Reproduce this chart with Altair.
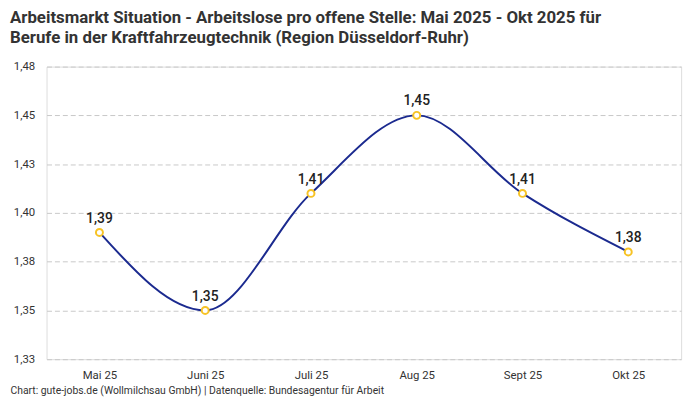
import altair as alt
import pandas as pd

months = ["Mai 25", "Juni 25", "Juli 25", "Aug 25", "Sept 25", "Okt 25"]
values = [1.39, 1.35, 1.41, 1.45, 1.41, 1.38]
y_ticks = [1.325, 1.35, 1.375, 1.40, 1.425, 1.45, 1.475]

df = pd.DataFrame({"monat": months, "wert": values})

FONT = "Roboto"

base = alt.Chart(df).encode(
    x=alt.X(
        "monat:N",
        sort=months,
        scale=alt.Scale(paddingInner=1, paddingOuter=0.5),
        axis=alt.Axis(
            title="Chart: gute-jobs.de (Wollmilchsau GmbH) | Datenquelle: Bundesagentur für Arbeit",
            titleAnchor="start",
            titleAlign="left",
            titleBaseline="alphabetic",
            titleX=-37,
            titleY=35,
            titleFontSize=10.5,
            titleFontWeight="normal",
            titleColor="#333333",
            titleFont=FONT,
            labelAngle=0,
            labelFontSize=11.5,
            labelColor="#333333",
            labelFont=FONT,
            labelPadding=11,
            ticks=False,
            domain=False,
            grid=False,
        ),
    ),
    y=alt.Y(
        "wert:Q",
        scale=alt.Scale(domain=[1.325, 1.475], nice=False, zero=False),
        axis=alt.Axis(
            title=None,
            values=y_ticks,
            labelExpr="replace(format(datum.value + 0.000001, '.2f'), '.', ',')",
            labelFontSize=11.5,
            labelColor="#333333",
            labelFont=FONT,
            labelPadding=12,
            ticks=False,
            domain=False,
            grid=True,
            gridColor="#c8c8c8",
            gridDash=[5, 3],
            gridWidth=1,
        ),
    ),
)

line = base.mark_line(interpolate="monotone", color="#1b2a8f", strokeWidth=2)
points = base.mark_point(
    shape="circle", size=50, filled=False, fill="white", fillOpacity=1,
    stroke="#f7c325", strokeWidth=2, opacity=1,
)
labels = base.transform_calculate(
    lbl="replace(format(datum.wert, '.2f'), '.', ',')"
).mark_text(
    dy=-14, fontSize=14, fontWeight=500, color="#222222", font=FONT
).encode(text="lbl:N")

chart = (
    alt.layer(line, points, labels)
    .properties(
        width=642,
        height=296,
        autosize=alt.AutoSizeParams(type="none"),
        padding={"left": 39, "top": 57, "right": 11, "bottom": 39},
        title=alt.TitleParams(
            text=[
                "Arbeitsmarkt Situation - Arbeitslose pro offene Stelle: Mai 2025 - Okt 2025 für",
                "Berufe in der Kraftfahrzeugtechnik (Region Düsseldorf-Ruhr)",
            ],
            anchor="start",
            fontSize=17,
            fontWeight="bold",
            color="#333333",
            font=FONT,
            lineHeight=20,
            offset=14,
        ),
    )
    .configure_view(stroke=None)
    .configure(background="white")
)

chart.save("out.html", embed_options={"renderer": "svg", "actions": False})
